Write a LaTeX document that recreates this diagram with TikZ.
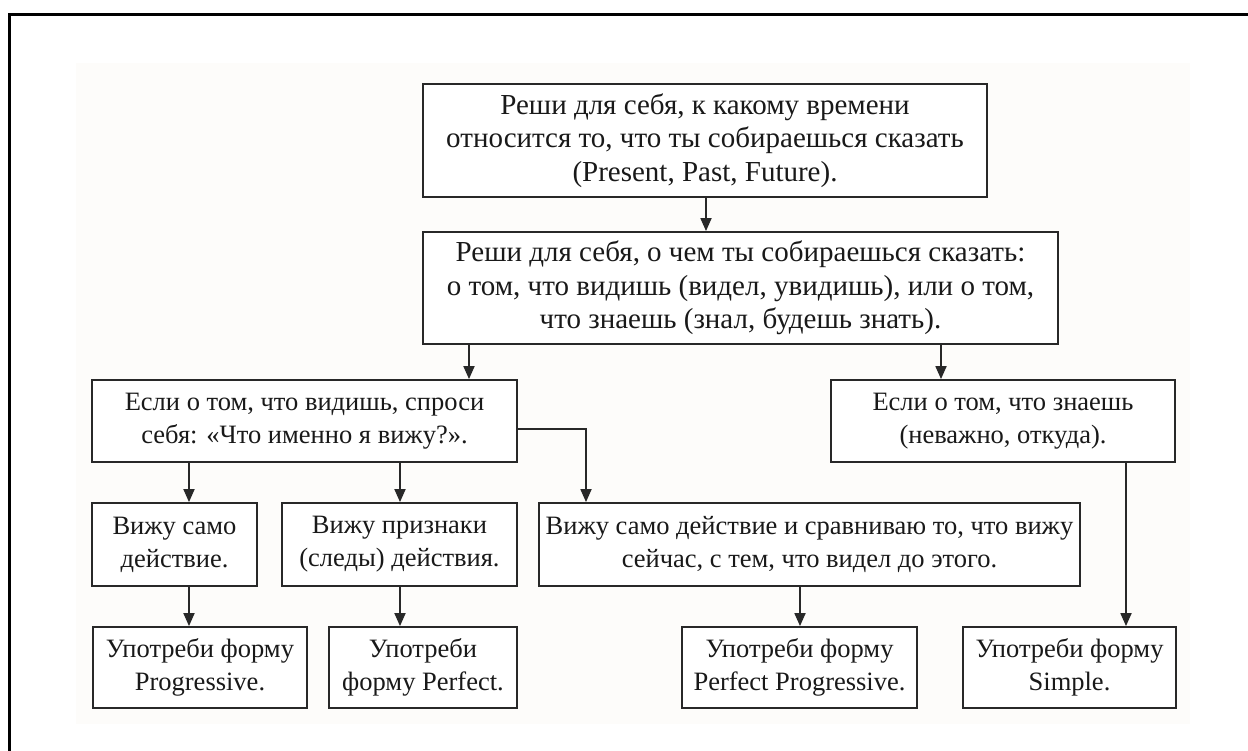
\documentclass[tikz,border=0pt]{standalone}
\usepackage{fontspec}
\setmainfont{Liberation Serif}
\usetikzlibrary{arrows.meta}
\definecolor{bgc}{RGB}{253,252,250}
\definecolor{linec}{RGB}{40,40,40}
\definecolor{txtc}{RGB}{25,25,25}
\tikzset{
  box/.style={draw=linec, line width=1.8pt, fill=white, align=center, inner sep=0pt,
    text=txtc, font=\fontsize{26.5}{33}\selectfont},
  bigbox/.style={box, font=\fontsize{29}{33.5}\selectfont},
  arr/.style={draw=linec, line width=1.8pt, -{Triangle[length=13pt,width=11pt]}},
  conn/.style={draw=linec, line width=1.8pt}
}
\begin{document}
\begin{tikzpicture}[x=1pt,y=-1pt]
\useasboundingbox (0,0) rectangle (1248,751);
\fill[bgc] (76,63) rectangle (1190,724);
\draw[line width=3pt, black] (9,751) -- (9,15) -- (1248,15);

% row 0
\node[bigbox, minimum width=564pt, minimum height=113pt] (b1) at (705,140.5)
  {Реши для себя, к какому времени\\относится то, что ты собираешься сказать\\(Present, Past, Future).};
\node[bigbox, minimum width=635pt, minimum height=112pt] (b2) at (740.5,288)
  {Реши для себя, о чем ты собираешься сказать:\\о том, что видишь (видел, увидишь), или о том,\\что знаешь (знал, будешь знать).};
% row 1
\node[box, minimum width=425pt, minimum height=82pt] (b3) at (304.5,421)
  {Если о том, что видишь, спроси\\себя: «Что именно я вижу?».};
\node[box, minimum width=344pt, minimum height=82pt] (b4) at (1003,421)
  {Если о том, что знаешь\\(неважно, откуда).};
% row 2
\node[box, minimum width=165pt, minimum height=83pt] (b5) at (174.5,544.5)
  {Вижу само\\действие.};
\node[box, minimum width=235pt, minimum height=83pt] (b6) at (399.5,544.5)
  {Вижу признаки\\(следы) действия.};
\node[box, minimum width=541pt, minimum height=83pt] (b7) at (809.5,544.5)
  {Вижу само действие и сравниваю то, что вижу\\сейчас, с тем, что видел до этого.};
% row 3
\node[box, minimum width=214pt, minimum height=81pt] (b8) at (200,667.5)
  {Употреби форму\\Progressive.};
\node[box, minimum width=188pt, minimum height=81pt] (b9) at (423,667.5)
  {Употреби\\форму Perfect.};
\node[box, minimum width=235pt, minimum height=81pt] (b10) at (799.5,667.5)
  {Употреби форму\\Perfect Progressive.};
\node[box, minimum width=213pt, minimum height=81pt] (b11) at (1069.5,667.5)
  {Употреби форму\\Simple.};

% connector x positions
\coordinate (xa) at (706,0);
\coordinate (xb) at (469,0);
\coordinate (xc) at (941,0);
\coordinate (xd) at (189,0);
\coordinate (xe) at (400,0);
\coordinate (xf) at (586,0);
\coordinate (xg) at (800,0);
\coordinate (xh) at (1126,0);
\coordinate (yk) at (0,429);
\coordinate (turn) at (586,429);

\draw[arr] (b1.south -| xa) -- (b2.north -| xa);
\draw[arr] (b2.south -| xb) -- (b3.north -| xb);
\draw[arr] (b2.south -| xc) -- (b4.north -| xc);
\draw[arr] (b3.south -| xd) -- (b5.north -| xd);
\draw[arr] (b3.south -| xe) -- (b6.north -| xe);
\draw[arr] (b3.east |- yk) -- (turn) -- (b7.north -| xf);
\draw[arr] (b5.south -| xd) -- (b8.north -| xd);
\draw[arr] (b6.south -| xe) -- (b9.north -| xe);
\draw[arr] (b7.south -| xg) -- (b10.north -| xg);
\draw[arr] (b4.south -| xh) -- (b11.north -| xh);
\end{tikzpicture}
\end{document}
